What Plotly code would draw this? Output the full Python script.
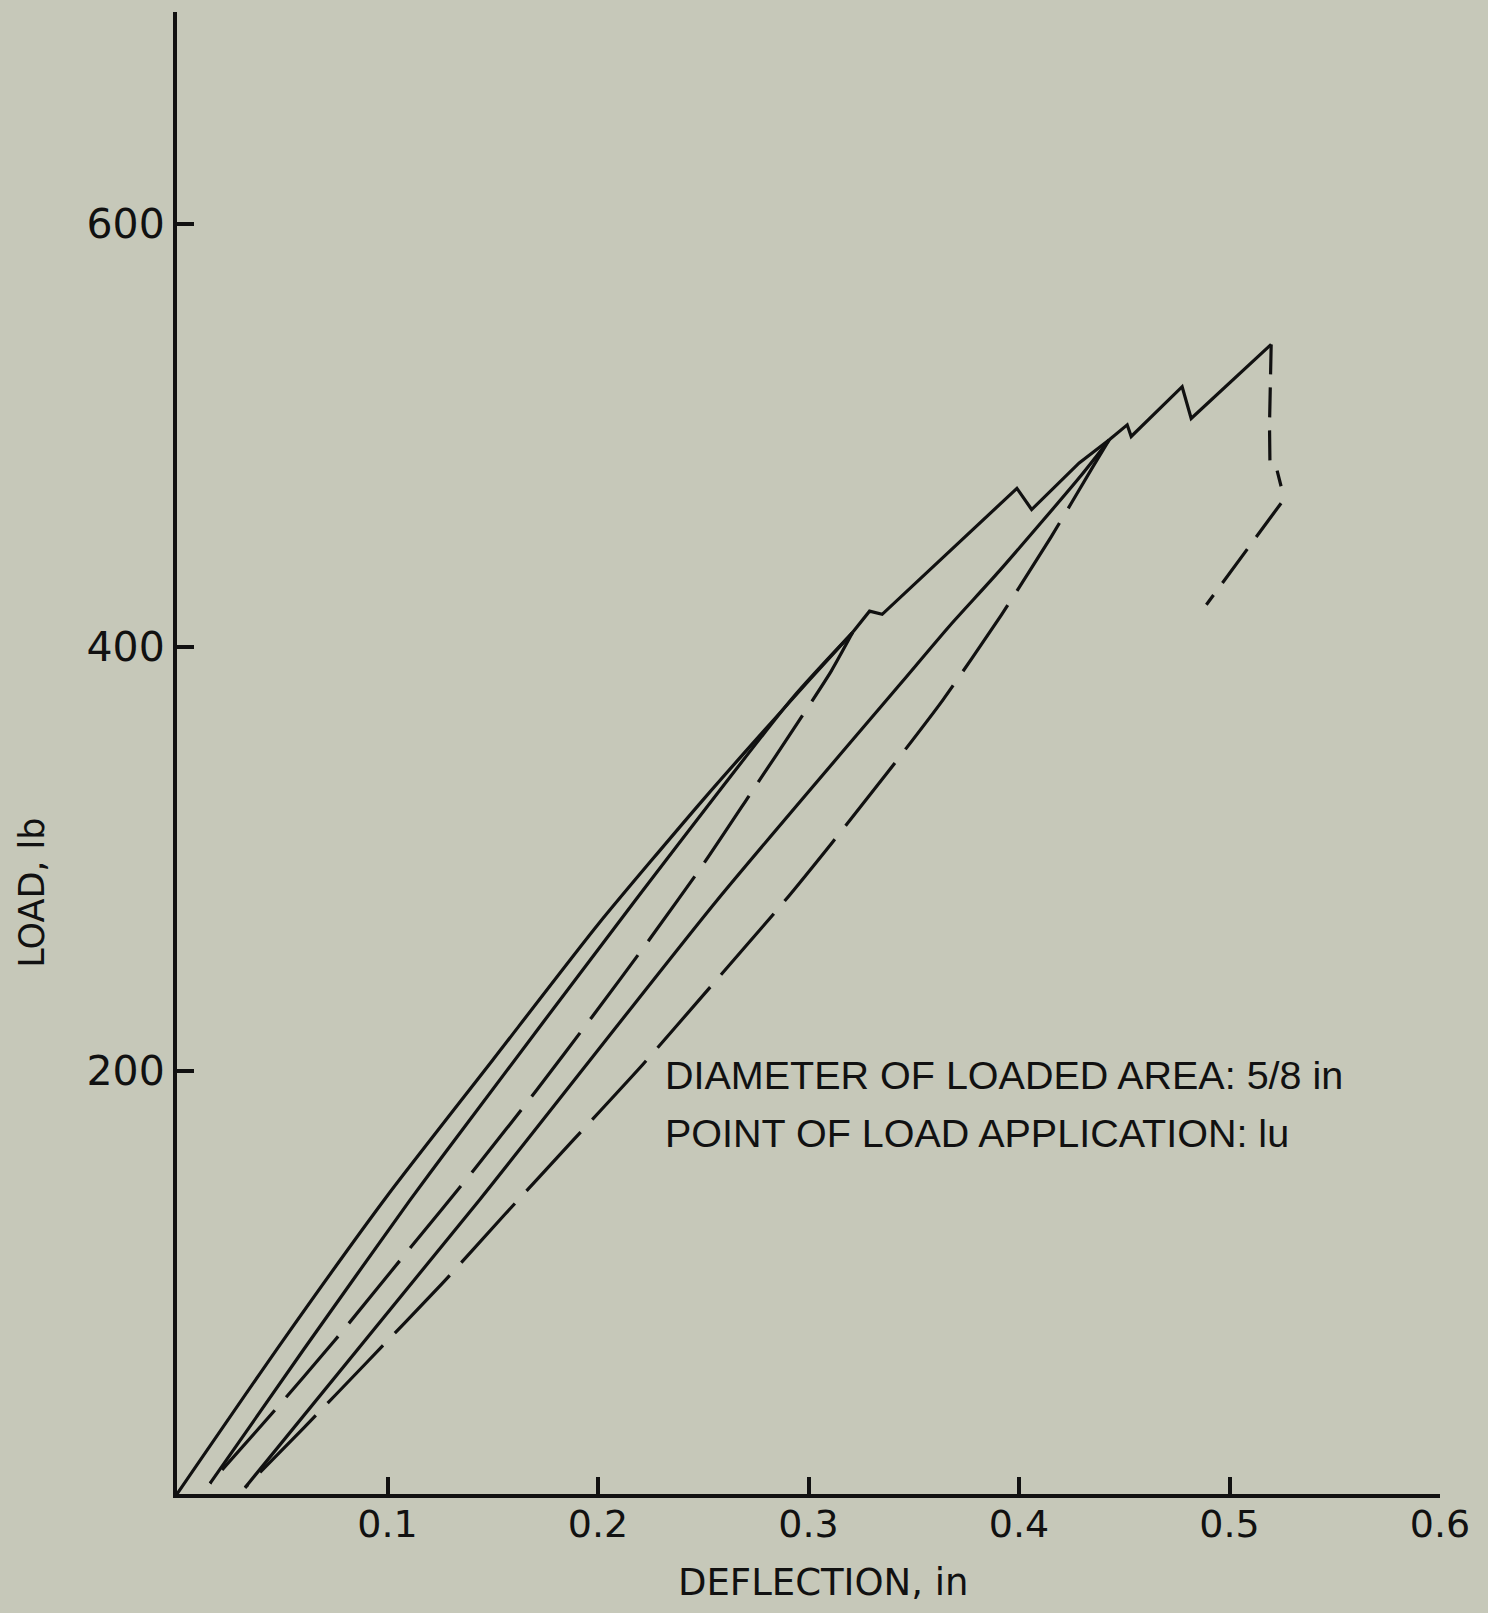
import plotly.graph_objects as go

# ---- data (deflection in inches, load in lb) ----
# primary loading envelope: smooth part, then the cracking zig-zag part
env_smooth_x = [0.0, 0.05, 0.1, 0.15, 0.2, 0.25, 0.3, 0.321]
env_smooth_y = [0, 72, 141, 205, 269, 328, 384, 407]
env_zig_x = [0.321, 0.329, 0.335, 0.367, 0.399, 0.406, 0.4286, 0.4429, 0.4514, 0.4533,
             0.4775, 0.4818, 0.5198]
env_zig_y = [407, 417, 415.5, 445, 475, 465, 487, 498, 505, 499.5,
             523, 508, 543]

reload1_x = [0.0157, 0.06, 0.1106, 0.128, 0.2174, 0.2924, 0.321]
reload1_y = [5, 68, 138.7, 162, 280, 376, 407]

unload1_x = [0.321, 0.3108, 0.2949, 0.2728, 0.2506, 0.2245, 0.1976, 0.1707, 0.1415,
             0.1106, 0.075, 0.0451, 0.0157]
unload1_y = [407, 388.7, 364.3, 331.3, 298.3, 262, 225.9, 190.6, 153.6,
             116, 72.6, 38, 5]

reload2_x = [0.0323, 0.1438, 0.2562, 0.3448, 0.367, 0.3907, 0.4286, 0.4429]
reload2_y = [3, 139, 280, 384, 410, 436, 480, 498]

unload2_x = [0.4429, 0.435, 0.4152, 0.3915, 0.3638, 0.3377, 0.3115, 0.2886, 0.2538,
             0.2214, 0.1881, 0.1557, 0.1256, 0.09, 0.06, 0.0323]
unload2_y = [498, 485, 452, 415, 375, 341, 308, 280, 240,
             203, 167, 132, 99, 62, 31, 3]

drop_x = [0.5198, 0.519, 0.5192, 0.5222, 0.5245]
drop_y = [543, 505, 488, 485, 476]
post_x = [0.5245, 0.489]
post_y = [468, 420]

x_ticks = [0.1, 0.2, 0.3, 0.4, 0.5, 0.6]
x_tick_text = ["0.1", "0.2", "0.3", "0.4", "0.5", "0.6"]
y_ticks = [200, 400, 600]
y_tick_text = ["200", "400", "600"]

note_lines = ["DIAMETER OF LOADED AREA: 5/8 in", "POINT OF LOAD APPLICATION: lu"]
note_y = [198, 170.3]

INK = "#111111"
BG = "#c6c8b9"
W = 3.2

fig = go.Figure()


def add_line(x, y, dash="solid", spline=False):
    ln = dict(color=INK, width=W, dash=dash)
    if spline:
        ln.update(shape="spline", smoothing=0.6)
    fig.add_trace(go.Scatter(x=x, y=y, mode="lines", line=ln, showlegend=False,
                             hoverinfo="x+y"))


add_line(env_smooth_x, env_smooth_y, spline=True)
add_line(env_zig_x, env_zig_y)
add_line(reload1_x, reload1_y, spline=True)
add_line(unload1_x, unload1_y, dash="80px,17px", spline=True)
add_line(reload2_x, reload2_y, spline=True)
add_line(unload2_x, unload2_y, dash="80px,17px", spline=True)
add_line(drop_x, drop_y, dash="30px,13px")
add_line(post_x, post_y, dash="42px,15px")

for txt, yy in zip(note_lines, note_y):
    fig.add_annotation(x=0.231, y=yy, xref="x", yref="y", text=txt, showarrow=False,
                       xanchor="left", yanchor="middle",
                       font=dict(family="Liberation Sans, Arial, sans-serif",
                                 size=39.5, color=INK))

fig.add_annotation(x=-0.1148, y=284, xref="paper", yref="y", text="LOAD, lb",
                   showarrow=False, textangle=-90, xanchor="center", yanchor="middle",
                   font=dict(family="DejaVu Sans", size=35, color=INK))
fig.add_annotation(x=0.5115, y=-0.060, xref="paper", yref="paper", text="DEFLECTION, in",
                   showarrow=False, xanchor="center", yanchor="middle",
                   font=dict(family="DejaVu Sans", size=37, color=INK))

fig.update_layout(
    width=1488, height=1613,
    margin=dict(l=177, r=48, t=12, b=119),
    paper_bgcolor=BG, plot_bgcolor=BG,
    xaxis=dict(range=[0, 0.6], showgrid=False, zeroline=False,
               showline=True, linecolor=INK, linewidth=4,
               ticks="inside", ticklen=17, tickwidth=3.5, tickcolor=INK,
               tickvals=x_ticks, ticktext=x_tick_text, ticklabelstandoff=-7,
               tickfont=dict(family="DejaVu Sans", size=38, color=INK)),
    yaxis=dict(range=[0, 700], showgrid=False, zeroline=False,
               showline=True, linecolor=INK, linewidth=4,
               ticks="inside", ticklen=17, tickwidth=3.5, tickcolor=INK,
               tickvals=y_ticks, ticktext=y_tick_text,
               tickfont=dict(family="DejaVu Sans", size=41, color=INK)),
)

fig.write_html("out.html",
               config={"displayModeBar": False},
               post_script="document.body.style.margin='0';"
                           "document.body.style.background='" + BG + "';")
